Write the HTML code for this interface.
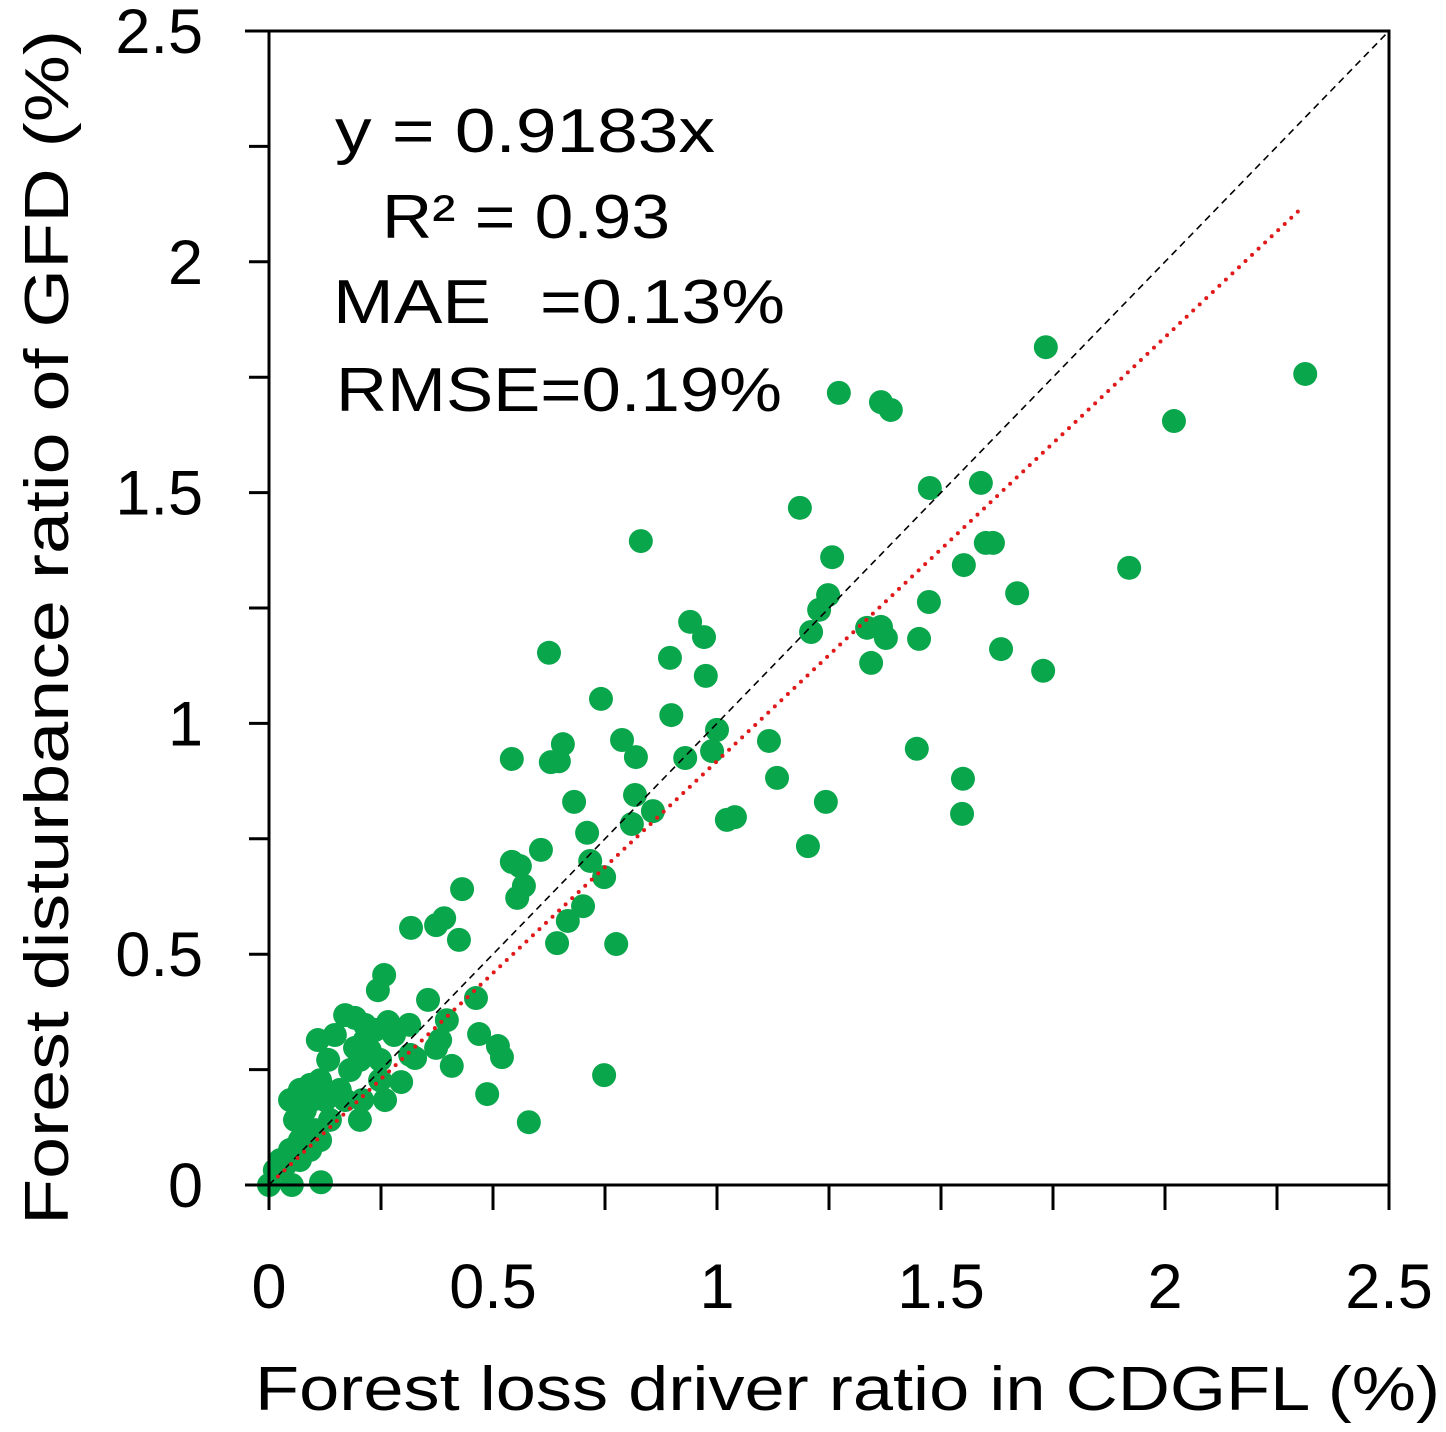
<!DOCTYPE html>
<html><head><meta charset="utf-8"><style>
html,body{margin:0;padding:0;background:#fff;}
svg{display:block;font-family:"Liberation Sans",sans-serif;}
</style></head><body>
<svg id="chart" width="1446" height="1432" viewBox="0 0 1446 1432" xmlns="http://www.w3.org/2000/svg">
<g id="marks"></g>
<g id="axes"></g>
<g font-size="62" fill="#000">
<text x="335" y="152" textLength="380" lengthAdjust="spacingAndGlyphs">y = 0.9183x</text>
<text x="382" y="238" textLength="288" lengthAdjust="spacingAndGlyphs">R² = 0.93</text>
<text x="333" y="323" textLength="158" lengthAdjust="spacingAndGlyphs">MAE</text>
<text x="540" y="323" textLength="245" lengthAdjust="spacingAndGlyphs">=0.13%</text>
<text x="336" y="411" textLength="446" lengthAdjust="spacingAndGlyphs">RMSE=0.19%</text>
</g>
<text x="255" y="1410" font-size="62" textLength="1185" lengthAdjust="spacingAndGlyphs">Forest loss driver ratio in CDGFL (%)</text>
<text transform="translate(68,1225) rotate(-90)" font-size="62" textLength="1195" lengthAdjust="spacingAndGlyphs">Forest disturbance ratio of GFD (%)</text>
</svg>
<script>
const xVals=[1.734,2.313,1.272,1.366,1.388,2.020,1.475,1.589,1.185,0.830,1.257,1.551,1.600,1.616,1.920,1.248,1.473,1.670,1.228,1.210,1.335,1.366,1.377,0.940,0.971,1.451,1.344,1.634,1.728,0.625,0.895,0.975,0.741,0.898,1.000,1.116,0.989,0.929,0.788,0.656,0.819,0.629,0.647,0.542,1.446,1.134,1.549,0.817,0.681,1.243,0.857,0.810,1.022,1.040,1.547,1.203,0.710,0.607,0.717,0.748,0.542,0.560,0.569,0.554,0.431,0.701,0.667,0.391,0.373,0.317,0.424,0.643,0.775,0.257,0.243,0.748,0.580,0.487,0.462,0.355,0.511,0.520,0.469,0.408,0.295,0.116,0.051,0,
0.170,0.192,0.214,0.237,0.266,0.313,0.315,0.326,0.382,0.397,0.373,0.214,0.225,0.203,0.248,0.181,0.147,0.109,0.132,0.114,0.092,0.069,0.047,0.058,0.080,0.096,0.125,0.158,0.170,0.203,0.208,0.259,0.248,0.136,0.103,0.069,0.047,0.025,0.013,0.036,0.069,0.114,0.092,0.192,0.279];
const yVals=[1.815,1.757,1.716,1.696,1.679,1.655,1.510,1.521,1.467,1.395,1.360,1.343,1.391,1.391,1.337,1.278,1.263,1.282,1.246,1.198,1.207,1.209,1.185,1.220,1.187,1.183,1.131,1.161,1.114,1.153,1.142,1.103,1.053,1.018,0.986,0.962,0.940,0.925,0.964,0.955,0.927,0.916,0.918,0.923,0.945,0.882,0.880,0.845,0.830,0.830,0.810,0.782,0.791,0.797,0.804,0.734,0.763,0.726,0.702,0.667,0.700,0.691,0.648,0.622,0.641,0.604,0.572,0.578,0.563,0.557,0.531,0.524,0.522,0.455,0.422,0.238,0.136,0.197,0.405,0.401,0.301,0.277,0.327,0.258,0.223,0.006,0,0,
0.368,0.362,0.347,0.336,0.353,0.347,0.282,0.275,0.314,0.357,0.297,0.314,0.292,0.271,0.271,0.249,0.325,0.314,0.271,0.227,0.217,0.206,0.184,0.141,0.162,0.184,0.184,0.206,0.184,0.141,0.184,0.184,0.227,0.141,0.119,0.097,0.076,0.054,0.032,0.043,0.054,0.097,0.076,0.297,0.325];
const xTickLabels=["0","0.5","1","1.5","2","2.5"];
const yTickLabels=["0","0.5","1","1.5","2","2.5"];
const slope=0.9183, fitStart=0.02, fitEnd=2.3;
const NS="http://www.w3.org/2000/svg";
const X0=269,X1=1389,Y0=1185,Y1=31,MAX=2.5;
const sx=v=>X0+(X1-X0)*v/MAX, sy=v=>Y0-(Y0-Y1)*v/MAX;
function mk(t,a,p){const e=document.createElementNS(NS,t);for(const k in a)e.setAttribute(k,a[k]);p.appendChild(e);return e;}
const marks=document.getElementById('marks'), axes=document.getElementById('axes');
xVals.forEach((x,i)=>{const c=mk('circle',{cx:sx(x),cy:sy(yVals[i]),r:12,fill:'#0aa64b'},marks);

});
const d=mk('line',{x1:sx(0),y1:sy(0),x2:sx(MAX),y2:sy(MAX),stroke:'#000','stroke-width':1.6,'stroke-dasharray':'7,5'},marks);


const f=mk('line',{x1:sx(fitStart),y1:sy(fitStart*slope),x2:sx(fitEnd),y2:sy(fitEnd*slope),stroke:'#e01a1a','stroke-width':4,'stroke-dasharray':'0,9','stroke-linecap':'round'},marks);


const fr=mk('path',{d:`M245 ${Y1}H${X1}V${Y0}M245 ${Y0}H${X1}M${X0} ${Y1}V${Y0}`,stroke:'#000','stroke-width':3,fill:'none'},axes);


for(let k=0;k<=10;k++){const v=k*0.25;
const t=mk('line',{x1:sx(v),y1:Y0,x2:sx(v),y2:Y0+25,stroke:'#000','stroke-width':3},axes);


const u=mk('line',{x1:X0-20,y1:sy(v),x2:X0,y2:sy(v),stroke:'#000','stroke-width':3},axes);

}
xTickLabels.forEach((s,i)=>{const t=mk('text',{x:sx(i*0.5),y:1308,'font-size':63,'text-anchor':'middle'},axes);t.textContent=s;

});
yTickLabels.forEach((s,i)=>{const t=mk('text',{x:203,y:sy(i*0.5)+22,'font-size':63,'text-anchor':'end'},axes);t.textContent=s;

});
</script>
</body></html>
